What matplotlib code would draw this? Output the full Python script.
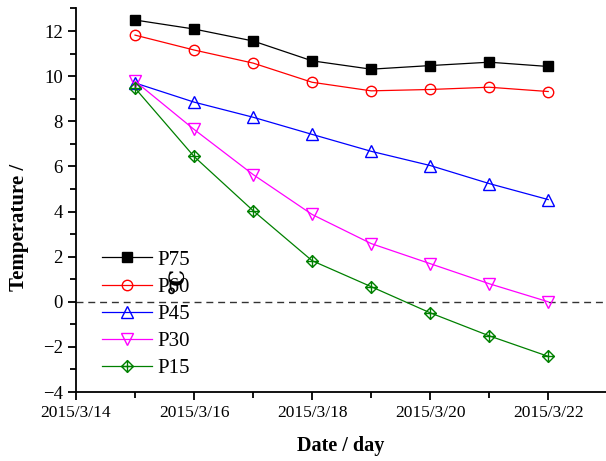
import datetime as dt
import matplotlib
matplotlib.use("Agg")
import matplotlib.pyplot as plt
import matplotlib.dates as mdates
from matplotlib.path import Path
from matplotlib.ticker import MultipleLocator, FuncFormatter

# Daily readings, 15-22 March 2015
dates = [dt.datetime(2015, 3, d) for d in range(15, 23)]
p75 = [12.49, 12.09, 11.56, 10.68, 10.31, 10.47, 10.62, 10.43]
p60 = [11.82, 11.16, 10.58, 9.73, 9.35, 9.41, 9.51, 9.32]
p45 = [9.70, 8.85, 8.18, 7.42, 6.67, 6.04, 5.24, 4.53]
p30 = [9.78, 7.64, 5.64, 3.87, 2.58, 1.69, 0.80, 0.00]
p15 = [9.47, 6.44, 4.04, 1.82, 0.67, -0.49, -1.51, -2.42]

plt.rcParams["font.family"] = ["Liberation Serif", "DejaVu Serif"]

# diamond with a cross inside
crossed_diamond = Path(
    [(0, 1), (1, 0), (0, -1), (-1, 0), (0, 1), (0, 1), (0, -1), (-1, 0), (1, 0)],
    [Path.MOVETO, Path.LINETO, Path.LINETO, Path.LINETO, Path.CLOSEPOLY,
     Path.MOVETO, Path.LINETO, Path.MOVETO, Path.LINETO],
)

fig = plt.figure(figsize=(6.06, 4.61), dpi=100)
ax = fig.add_axes([76 / 606, 69 / 461, 530 / 606, 383.5 / 461])

ax.axhline(0, color="#333333", lw=1.0, ls=(0, (5, 3.5)), zorder=1)

style = dict(lw=0.9, ms=7.5, mew=1.0)
ax.plot(dates, p75, color="black", marker="s", mfc="black", label="P75", **style)
ax.plot(dates, p60, color="red", marker="o", mfc="none", label="P60", **style)
ax.plot(dates, p45, color="blue", marker="^", mfc="none", label="P45", ms=8.5, lw=0.9, mew=1.0)
ax.plot(dates, p30, color="magenta", marker="v", mfc="none", label="P30", ms=8.5, lw=0.9, mew=1.0)
ax.plot(dates, p15, color="green", marker=crossed_diamond, mfc="none", label="P15", ms=8.5, lw=0.9, mew=1.0)

ax.set_xlim(dt.datetime(2015, 3, 14), dt.datetime(2015, 3, 22, 23, 30))
ax.set_ylim(-4, 13)

ax.xaxis.set_major_locator(mdates.DayLocator(bymonthday=[14, 16, 18, 20, 22]))
ax.xaxis.set_minor_locator(mdates.DayLocator())
ax.xaxis.set_major_formatter(
    FuncFormatter(lambda v, p: "{0.year}/{0.month}/{0.day}".format(mdates.num2date(v))))
ax.yaxis.set_major_locator(MultipleLocator(2))
ax.yaxis.set_minor_locator(MultipleLocator(1))

for s in ["top", "right"]:
    ax.spines[s].set_visible(False)
for s in ["left", "bottom"]:
    ax.spines[s].set_linewidth(1.3)
ax.tick_params(which="major", direction="out", length=6, width=1.3)
ax.tick_params(which="minor", direction="out", length=4, width=1.3)
ax.tick_params(axis="x", labelsize=12.5)
ax.tick_params(axis="y", labelsize=13.5)

ax.set_ylabel("Temperature /", fontsize=15, fontweight="bold")
ax.yaxis.set_label_coords(-0.088, 0.43)
ax.set_xlabel("Date / day", fontsize=14.5, fontweight="bold", labelpad=11)

ax.legend(loc="upper left", bbox_to_anchor=(0.029, 0.397), frameon=False,
          fontsize=15, handlelength=2.4, handletextpad=0.25, labelspacing=0.36,
          borderpad=0)

# stray degree symbol from the axis title
fig.text(180 / 606, 1 - 282 / 461, "℃", rotation=90, fontsize=15, fontweight="bold",
         ha="center", va="center")

fig.savefig("out.png", dpi=100)
